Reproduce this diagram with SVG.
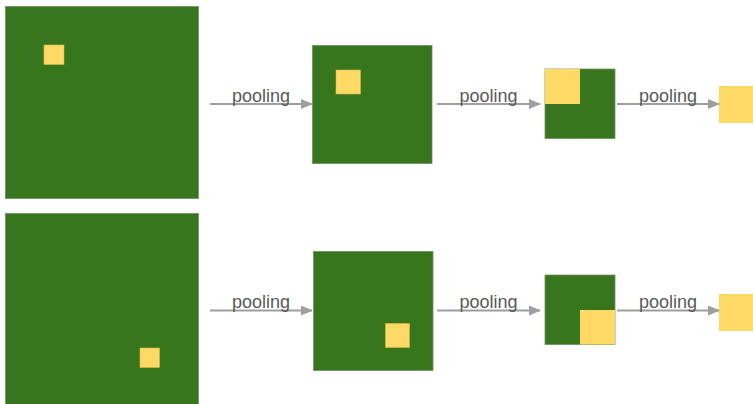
<svg xmlns="http://www.w3.org/2000/svg" width="753" height="404" viewBox="0 0 753 404">
  <style>
    .map { fill: #38761d; stroke: #6f8f62; stroke-width: 0.8; }
    .hot { fill: #ffd966; stroke: #d9b94f; stroke-width: 0.6; }
    .out { fill: #ffd966; }
    .edge { stroke: #9e9e9e; stroke-width: 2; fill: none; marker-end: url(#tip); }
    .lbl { font-family: "Liberation Sans", Arial, sans-serif; font-size: 18px; fill: #595959; text-anchor: middle; }
  </style>
  <defs>
    <marker id="tip" viewBox="0 0 12 10" refX="11" refY="5" markerWidth="12" markerHeight="10" markerUnits="userSpaceOnUse" orient="auto">
      <path d="M0,0 L12,5 L0,10 z" fill="#9e9e9e"/>
    </marker>
  </defs>
  <rect width="753" height="404" fill="#ffffff"/>

  <!-- top row: feature activated near the top-left corner -->
  <g id="top-input">
    <rect class="map" x="5.5" y="6.5" width="193" height="192"/>
    <rect class="hot" x="44" y="45" width="20" height="19.5"/>
  </g>
  <g id="top-pool1">
    <rect class="map" x="312.5" y="45.5" width="119.5" height="118"/>
    <rect class="hot" x="336" y="70" width="24.5" height="24"/>
  </g>
  <g id="top-pool2">
    <rect class="map" x="545" y="69" width="70" height="69.5"/>
    <rect class="out" x="545" y="69" width="35" height="35"/>
  </g>
  <g id="top-pool3">
    <rect class="out" x="719" y="86" width="36" height="37"/>
  </g>

  <!-- bottom row: same feature near the bottom-right corner -->
  <g id="bottom-input">
    <rect class="map" x="5.5" y="213.5" width="193" height="193"/>
    <rect class="hot" x="140" y="348" width="19.5" height="19.5"/>
  </g>
  <g id="bottom-pool1">
    <rect class="map" x="313.5" y="251.5" width="119.5" height="119"/>
    <rect class="hot" x="385.5" y="323.5" width="24" height="24"/>
  </g>
  <g id="bottom-pool2">
    <rect class="map" x="545" y="275" width="70" height="69.5"/>
    <rect class="out" x="580" y="310" width="35" height="34.5"/>
  </g>
  <g id="bottom-pool3">
    <rect class="out" x="719" y="294" width="36" height="37"/>
  </g>

  <g id="connectors">
    <line class="edge" x1="210" y1="104" x2="312" y2="104"/>
    <line class="edge" x1="437" y1="104" x2="540" y2="104"/>
    <line class="edge" x1="617" y1="104" x2="719" y2="104"/>
    <line class="edge" x1="210" y1="310.5" x2="312" y2="310.5"/>
    <line class="edge" x1="437" y1="310.5" x2="540" y2="310.5"/>
    <line class="edge" x1="617" y1="310.5" x2="719" y2="310.5"/>
    <text class="lbl" x="261" y="102">pooling</text>
    <text class="lbl" x="488.5" y="102">pooling</text>
    <text class="lbl" x="668" y="102">pooling</text>
    <text class="lbl" x="261" y="308">pooling</text>
    <text class="lbl" x="488.5" y="308">pooling</text>
    <text class="lbl" x="668" y="308">pooling</text>
  </g>
</svg>
